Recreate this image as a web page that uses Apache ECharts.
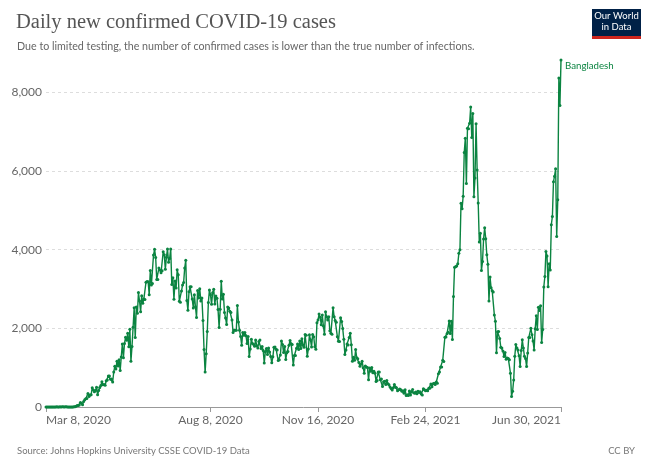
<!DOCTYPE html>
<html><head><meta charset="utf-8">
<script src="https://cdn.jsdelivr.net/npm/echarts@6/dist/echarts.min.js"></script>
<style>html,body{margin:0;padding:0;background:#fff}#c{width:654px;height:466px}</style>
</head><body><div id="c"></div>
<script>
// Daily new confirmed cases, Bangladesh
const mar2020 = [3,0,0,0,0,0,2,0,3,2,4,3,3,4,3,6,6,0,5,4,0,0,1,2];
const apr2020 = [3,2,5,9,18,35,41,54,112,94,58,139,182,209,219,341,266,306,312,492,434,390,414,503,309,418,497,549,641,564];
const may2020 = [571,552,665,688,786,790,706,709,636,887,1034,969,1162,1041,1202,930,1273,1602,1251,1617,1773,1694,1873,1532,1975,1166,1541,2029,2523,1764,2545];
const jun2020 = [2381,2911,2695,2423,2828,2635,2743,2735,3171,3190,3187,2856,3471,3099,3141,3862,4008,3803,3243,3240,3531,3480,3412,3462,3946,3868,3504,3809,4014,3682];
const jul2020 = [3775,4019,3114,3288,2738,3201,3027,3489,3360,2686,2666,2949,3099,3163,3533,3733,2709,2459,2928,3057,3057,2744,2520,2856,2548,2275,2960,2772,3009,2695,2772];
const aug2020 = [2199,1459,887,1356,1918,2654,2977,2851,2611,2907,2996,2617,2825,2766,2481,2024,2485,3200,2747,2868,2401,2265,2097,2545,2519,2436,2401,2211,1897,1950,1954];
const sep2020 = [1950,2582,2158,1950,1792,1571,1892,1827,1892,1812,1615,1792,1282,1476,1724,1615,1593,1544,1705,1557,1501,1666,1705,1488,1540,1436,1120,1407,1488,1335];
const oct2020 = [1500,1396,1282,1125,1275,1520,1524,1469,1446,1181,1203,1325,1678,1590,1383,1537,1209,1380,1410,1573,1692,1611,1586,1070,1308,1311,1493,1604,1463,1678,1485];
const nov2020 = [1736,1568,1517,1845,1826,1290,1474,1837,1709,1524,1845,1788,1531,1471,2139,2212,2364,2279,2093,2340,2060,1847,2419,2292,2214,2293,1941,1875,1847,2525];
const dec2020 = [2293,2198,2156,1788,1669,1667,2268,2173,1994,1720,1335,1447,1601,1575,1766,1878,1582,1163,1265,1186,1464,1250,1228,1132,1034,1084,1164,999,860,1041,1014];
const jan2021 = [1007,690,990,910,1005,868,912,859,648,672,889,890,691,713,521,643,655,569,673,589,568,508,473,432,492,569,509,487,413,441,458];
const feb2021 = [440,399,416,349,441,291,310,292,404,306,397,444,364,348,382,340,401,367,389,329,302,464,437,413,427,416,478,479];
const mar2021 = [585,515,591,605,570,635,606,845,892,1018,1014,1186,1159,1773,1779,1865,1899,2187,1868,2181,1719,2809,3554,3567,3587,3640,3908,3996,5181,5042,5358];
const apr2021 = [6469,6830,5683,7087,7075,7213,7626,6854,7462,5343,5819,7201,6028,5185,4192,4417,3473,3698,4271,4559,4280,3869,3629,2697,3306,3031,2955,2922,2341,2177];
const may2021 = [1380,1914,1919,1742,1522,1500,1422,1285,1385,1214,1245,1230,1200,860,270,400,689,1290,1586,1500,1452,1300,1031,1436,1710,1497,1292,1230,1031,1376,1764];
const jun2021 = [1765,2000,1838,1676,1447,1988,2322,1970,2537,2454,2576,1637,1971,3050,3319,3956,3840,3057,3641,3480,4636,4846,5727,5869,6058,4334,5268,8364,7666,8822];

const seriesName = 'Bangladesh';
const firstDate = '2020-03-08';
const tickDates = ['2020-03-08','2020-08-08','2020-11-16','2021-02-24','2021-06-30'];
const tickLabels = ['Mar 8, 2020','Aug 8, 2020','Nov 16, 2020','Feb 24, 2021','Jun 30, 2021'];
const yTickValues = [0,2000,4000,6000,8000];

const values = [].concat(mar2020,apr2020,may2020,jun2020,jul2020,aug2020,sep2020,oct2020,nov2020,dec2020,jan2021,feb2021,mar2021,apr2021,may2021,jun2021);
const dates = [];
const t0 = Date.parse(firstDate + 'T00:00:00Z');
for (let i = 0; i < values.length; i++) {
  dates.push(new Date(t0 + i * 86400000).toISOString().slice(0, 10));
}
const tickIdx = tickDates.map(t => dates.indexOf(t));
const isTick = (i) => tickIdx.indexOf(i) >= 0;

const GREEN = '#0b8441';
const chart = echarts.init(document.getElementById('c'), null, {renderer: 'canvas'});
chart.setOption({
  animation: false,
  textStyle: {fontFamily: 'Lato'},
  title: [
    {text: 'Daily new confirmed COVID-19 cases', left: 11, top: 7,
     textStyle: {fontFamily: 'Liberation Serif', fontSize: 20.5, fontWeight: 'normal', color: '#555'}},
    {text: 'Due to limited testing, the number of confirmed cases is lower than the true number of infections.', left: 12, top: 36,
     textStyle: {fontFamily: 'Lato', fontSize: 10.7, fontWeight: 'normal', color: '#666'}},
    {text: 'Source: Johns Hopkins University CSSE COVID-19 Data', left: 12, top: 441,
     textStyle: {fontFamily: 'Lato', fontSize: 9.5, fontWeight: 'normal', color: '#777'}},
    {text: 'CC BY', right: 14, top: 441,
     textStyle: {fontFamily: 'Lato', fontSize: 9.5, fontWeight: 'normal', color: '#777'}}
  ],
  grid: {left: 46, right: 93, top: 60, bottom: 59},
  xAxis: {
    type: 'category', data: dates, boundaryGap: false,
    axisLine: {lineStyle: {color: '#999', width: 1}},
    axisTick: {show: true, interval: isTick, length: 5, lineStyle: {color: '#999'}},
    axisLabel: {interval: isTick, formatter: v => tickLabels[tickDates.indexOf(v)] || '',
      color: '#666', fontSize: 12, margin: 7, alignMinLabel: 'left', alignMaxLabel: 'right'},
    splitLine: {show: false}
  },
  yAxis: {
    type: 'value', min: 0, max: 'dataMax', interval: 2000,
    axisLine: {show: false}, axisTick: {show: false},
    axisLabel: {color: '#666', fontSize: 12, margin: 4, showMaxLabel: false,
      formatter: v => yTickValues.indexOf(v) >= 0 ? v.toLocaleString('en-US') : ''},
    splitLine: {lineStyle: {type: [3, 3], width: 1, color: ['#ddd','#ddd','#ddd','#ddd','#ddd','rgba(0,0,0,0)']}}
  },
  series: [{
    name: seriesName, type: 'line', data: values,
    symbol: 'circle', symbolSize: 3, showAllSymbol: true,
    lineStyle: {width: 1.4, color: GREEN}, itemStyle: {color: GREEN},
    endLabel: {show: true, formatter: '{a}', color: GREEN, fontSize: 9.7, fontFamily: 'Lato', offset: [-4, 6]}
  }],
  graphic: [
    {type: 'rect', shape: {x: 592, y: 9, width: 49, height: 30}, style: {fill: '#002147'}},
    {type: 'rect', shape: {x: 592, y: 36, width: 49, height: 3}, style: {fill: '#ce261e'}},
    {type: 'text', x: 616.5, y: 11, style: {text: 'Our World', fill: '#fff', font: '9.5px Lato', align: 'center'}},
    {type: 'text', x: 616.5, y: 22, style: {text: 'in Data', fill: '#fff', font: '9.5px Lato', align: 'center'}}
  ]
});
</script>
</body></html>
